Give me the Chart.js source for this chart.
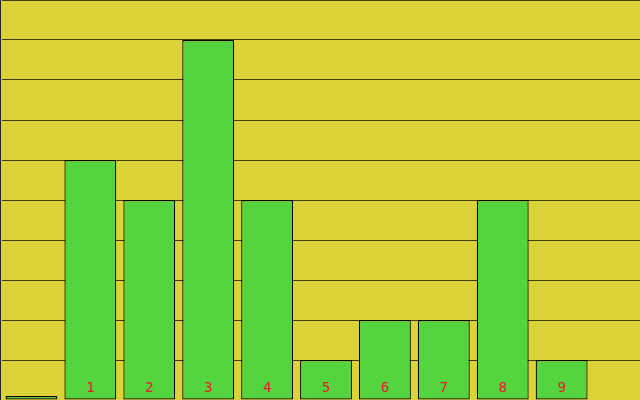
<!DOCTYPE html>
<html>
<head>
<meta charset="utf-8">
<script src="https://cdn.jsdelivr.net/npm/chart.js@4/dist/chart.umd.min.js"></script>
<style>
  html, body { margin: 0; padding: 0; background: #dcd23a; overflow: hidden; }
  #wrap { position: relative; width: 640px; height: 400px; overflow: hidden; background: #dcd23a; }
  #edge { position: absolute; left: 0; top: 0; width: 1px; height: 400px; background: #222; }
  #box { position: absolute; left: 2px; top: 0; width: 648px; height: 400px; }
</style>
</head>
<body>
<div id="wrap"><div id="box"><canvas id="barChart"></canvas></div><div id="edge"></div></div>
<script>
// bar labels (index) and values
var categories = ['', '1', '2', '3', '4', '5', '6', '7', '8', '9', ''];
var values = [0.1, 6, 5, 9, 5, 1, 2, 2, 5, 1, null];
var yMin = 0;
var yMax = 10;
var yStep = 1;

// red index numbers at the foot of each bar
var footLabels = {
    id: 'footLabels',
    afterDatasetsDraw: function(chart) {
        var ctx = chart.ctx;
        var meta = chart.getDatasetMeta(0);
        ctx.save();
        ctx.fillStyle = '#f0142e';
        ctx.font = '14px "DejaVu Sans Mono"';
        ctx.textAlign = 'center';
        ctx.textBaseline = 'alphabetic';
        meta.data.forEach(function(bar, i) {
            if (!categories[i]) return;
            ctx.fillText(categories[i], bar.x, chart.chartArea.bottom - 8);
        });
        ctx.restore();
    }
};

var ctx = document.getElementById('barChart').getContext('2d');
var myChart = new Chart(ctx, {
    type: 'bar',
    data: {
        labels: categories,
        datasets: [{
            data: values,
            backgroundColor: '#54d43e',
            borderColor: '#000000',
            borderWidth: 1.2,
            borderSkipped: false,
            categoryPercentage: 1,
            barPercentage: 0.88
        }]
    },
    options: {
        responsive: true,
        maintainAspectRatio: false,
        animation: false,
        layout: { padding: 0 },
        plugins: {
            legend: { display: false },
            tooltip: { enabled: false }
        },
        scales: {
            x: {
                display: false
            },
            y: {
                min: yMin,
                max: yMax,
                z: 1,
                ticks: { display: false, stepSize: yStep },
                grid: { color: 'rgba(0,0,0,0.72)', drawTicks: false, tickLength: 0 },
                border: { display: false }
            }
        }
    },
    plugins: [footLabels]
});
</script>
</body>
</html>
